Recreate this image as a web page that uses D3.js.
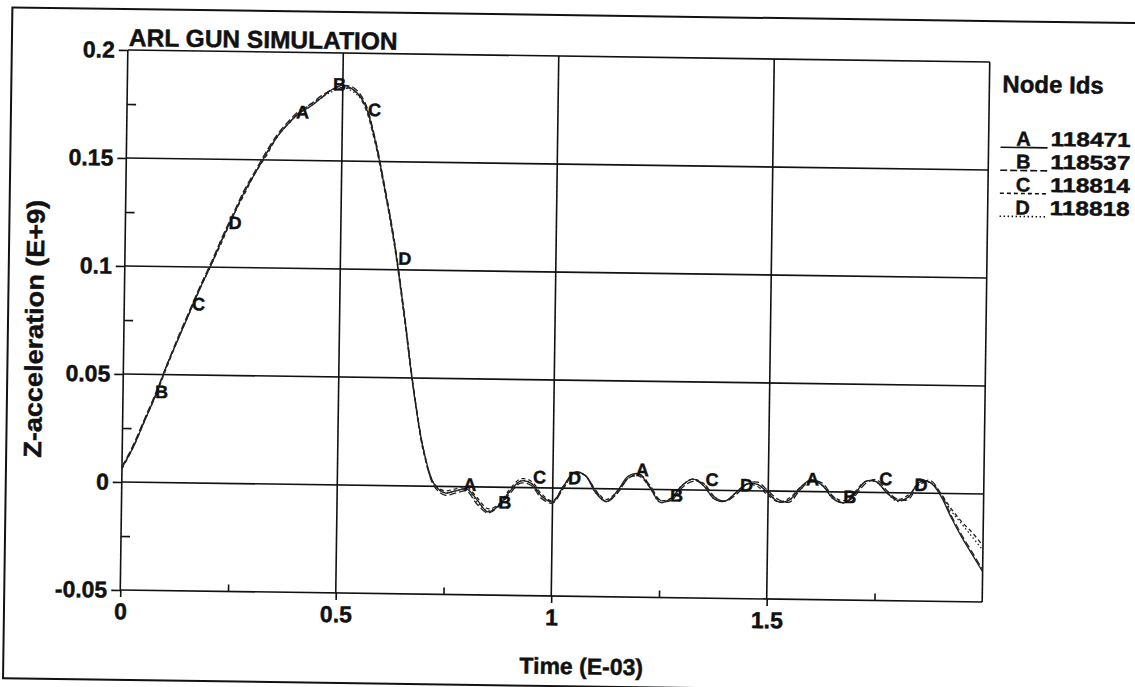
<!DOCTYPE html>
<html>
<head>
<meta charset="utf-8">
<script src="https://cdn.jsdelivr.net/npm/d3@7"></script>
<style>
  body { margin: 0; background: #fff; }
  svg { display: block; font-family: "Liberation Sans", Arial, sans-serif; font-weight: bold; }
  text { stroke: #111; stroke-width: 0.45px; }
</style>
</head>
<body>
<svg id="chart" width="1135" height="687"></svg>
<script>
// 时间轴 (E-03)
const times = [0, 0.025, 0.05, 0.075, 0.1, 0.125, 0.15, 0.175, 0.2, 0.225,
  0.25, 0.275, 0.3, 0.325, 0.35, 0.375, 0.4, 0.425, 0.45, 0.475,
  0.5, 0.525, 0.55, 0.575, 0.6, 0.625, 0.65, 0.675, 0.7, 0.725,
  0.75, 0.775, 0.8, 0.825, 0.85, 0.875, 0.9, 0.925, 0.95, 0.975,
  1, 1.025, 1.05, 1.075, 1.1, 1.125, 1.15, 1.175, 1.2, 1.225,
  1.25, 1.275, 1.3, 1.325, 1.35, 1.375, 1.4, 1.425, 1.45, 1.475,
  1.5, 1.525, 1.55, 1.575, 1.6, 1.625, 1.65, 1.675, 1.7, 1.725,
  1.75, 1.775, 1.8, 1.825, 1.85, 1.875, 1.9, 1.925, 1.95, 1.975, 2];

// Z-acceleration (E+9), 每个节点一条
const seriesA = [0.0065, 0.016, 0.028, 0.040, 0.054, 0.066, 0.078, 0.090, 0.101, 0.113,
  0.124, 0.135, 0.144, 0.153, 0.161, 0.167, 0.172, 0.175, 0.179, 0.183,
  0.185, 0.183, 0.177, 0.161, 0.138, 0.112, 0.079, 0.043, 0.016, 0.001,
  -0.003, -0.002, -0.001, -0.006, -0.0115, -0.0085, -0.002, 0.003, 0.002, -0.004,
  -0.0065, 0.001, 0.0075, 0.006, -0.002, -0.006, -0.001, 0.006, 0.007, 0.001,
  -0.006, -0.004, 0.002, 0.005, 0.002, -0.004, -0.005, -0.001, 0.003, 0.003,
  -0.001, -0.005, -0.004, 0.002, 0.0055, 0.003, -0.003, -0.005, -0.001, 0.005,
  0.005, 0.000, -0.0035, -0.002, 0.005, 0.005, -0.001, -0.011, -0.020, -0.028, -0.036];
const seriesB = [0.007, 0.017, 0.029, 0.041, 0.054, 0.067, 0.079, 0.091, 0.102, 0.114,
  0.125, 0.136, 0.145, 0.154, 0.162, 0.168, 0.173, 0.176, 0.180, 0.183,
  0.185, 0.184, 0.178, 0.162, 0.139, 0.113, 0.080, 0.044, 0.016, 0.000,
  -0.004, -0.003, -0.002, -0.008, -0.012, -0.009, -0.003, 0.002, 0.001, -0.005,
  -0.007, 0.000, 0.007, 0.006, -0.001, -0.006, -0.002, 0.005, 0.007, 0.002,
  -0.005, -0.005, 0.001, 0.004, 0.003, -0.003, -0.005, -0.002, 0.003, 0.004,
  0.000, -0.004, -0.005, 0.001, 0.005, 0.004, -0.002, -0.005, -0.002, 0.004,
  0.006, 0.001, -0.003, -0.003, 0.004, 0.006, 0.000, -0.010, -0.019, -0.027, -0.035];
const seriesC = [0.006, 0.016, 0.028, 0.040, 0.053, 0.066, 0.078, 0.090, 0.101, 0.112,
  0.124, 0.134, 0.144, 0.152, 0.161, 0.167, 0.172, 0.176, 0.179, 0.183,
  0.184, 0.183, 0.176, 0.160, 0.137, 0.111, 0.078, 0.043, 0.015, 0.001,
  -0.002, -0.001, 0.000, -0.005, -0.010, -0.008, -0.001, 0.004, 0.003, -0.003,
  -0.006, 0.001, 0.007, 0.006, -0.001, -0.005, -0.001, 0.005, 0.006, 0.001,
  -0.005, -0.004, 0.002, 0.005, 0.003, -0.003, -0.005, -0.001, 0.003, 0.002,
  -0.002, -0.005, -0.003, 0.002, 0.005, 0.003, -0.002, -0.004, 0.000, 0.005,
  0.005, 0.000, -0.003, -0.001, 0.004, 0.005, 0.000, -0.007, -0.013, -0.018, -0.024];
const seriesD = [0.007, 0.016, 0.028, 0.040, 0.054, 0.066, 0.078, 0.090, 0.101, 0.113,
  0.124, 0.135, 0.144, 0.153, 0.161, 0.167, 0.172, 0.175, 0.179, 0.182,
  0.184, 0.182, 0.177, 0.161, 0.138, 0.112, 0.079, 0.043, 0.016, 0.001,
  -0.003, -0.002, -0.001, -0.007, -0.011, -0.008, -0.002, 0.003, 0.002, -0.004,
  -0.006, 0.000, 0.007, 0.006, -0.002, -0.006, -0.002, 0.005, 0.007, 0.001,
  -0.006, -0.004, 0.002, 0.005, 0.002, -0.004, -0.005, -0.001, 0.003, 0.003,
  -0.001, -0.005, -0.004, 0.001, 0.005, 0.003, -0.003, -0.005, -0.001, 0.005,
  0.005, 0.000, -0.004, -0.002, 0.005, 0.005, 0.000, -0.008, -0.014, -0.020, -0.026];

const nodeNames = ["A", "B", "C", "D"];
const nodeIds = ["118471", "118537", "118814", "118818"];
// 曲线上字母标记的位置 (时间)，字母左下角落在曲线上
const labelTimesA = [0.39, 0.79, 1.19, 1.585];
const labelTimesB = [0.072, 0.475, 0.872, 1.27, 1.672];
const labelTimesC = [0.155, 0.557, 0.952, 1.352, 1.755];
const labelTimesD = [0.237, 0.632, 1.033, 1.432, 1.837];

const xTicks = [0, 0.5, 1, 1.5];
const xTickText = ["0", "0.5", "1", "1.5"];
const xMinor = [0.25, 0.75, 1.25, 1.75];
const yTicks = [-0.05, 0, 0.05, 0.1, 0.15, 0.2];
const yTickText = ["-0.05", "0", "0.05", "0.1", "0.15", "0.2"];
const yMinor = [-0.025, 0.025, 0.075, 0.125, 0.175];

const all_series = [seriesA, seriesB, seriesC, seriesD];
const all_labels = [labelTimesA, labelTimesB, labelTimesC, labelTimesD];
const dashes = ["none", "7,3", "4,3", "1.5,2.5"];

const svg = d3.select("#chart");
// 扫描件略有倾斜，整体旋转一点
const g = svg.append("g").attr("transform", "rotate(0.8, 555, 326)");

const xScale = d3.scaleLinear().domain([0, 2]).range([124, 986]);
const yScale = d3.scaleLinear().domain([-0.05, 0.2]).range([596, 56]);

// 外框
g.append("rect")
  .attr("x", 8).attr("y", 15)
  .attr("width", 1200).attr("height", 671)
  .style("fill", "none").style("stroke", "#111").style("stroke-width", 2);

// 网格
function draw_grid() {
  g.selectAll(".hgrid")
    .data(yTicks)
    .enter()
    .append("line")
    .attr("class", "hgrid")
    .attr("x1", xScale(0)).attr("x2", xScale(2))
    .attr("y1", d => yScale(d)).attr("y2", d => yScale(d))
    .style("stroke", "#111").style("stroke-width", 1.6);

  g.selectAll(".vgrid")
    .data(xTicks.concat([2]))
    .enter()
    .append("line")
    .attr("class", "vgrid")
    .attr("x1", d => xScale(d)).attr("x2", d => xScale(d))
    .attr("y1", yScale(-0.05)).attr("y2", yScale(0.2))
    .style("stroke", "#111").style("stroke-width", 1.6);
}

function draw_Axis() {
  const xAxis = d3.axisBottom(xScale).tickValues(xTicks).tickSize(7)
    .tickFormat((d, i) => xTickText[i]);
  const yAxis = d3.axisLeft(yScale).tickValues(yTicks).tickSize(9)
    .tickFormat((d, i) => yTickText[i]);

  const gx = g.append("g").attr("transform", `translate(0, ${yScale(-0.05)})`).call(xAxis);
  const gy = g.append("g").attr("transform", `translate(${xScale(0)}, 0)`).call(yAxis);
  [gx, gy].forEach(a => {
    a.select(".domain").remove();
    a.selectAll("line").style("stroke", "#111").style("stroke-width", 1.6);
    a.selectAll("text").style("font-size", "23px").style("font-weight", "bold")
      .style("font-family", "'Liberation Sans', Arial, sans-serif").style("fill", "#111");
  });
  gx.selectAll("text").attr("y", 13);
  gy.selectAll("text").attr("x", -13);

  // 小刻度，朝内
  g.append("g").attr("transform", `translate(0, ${yScale(-0.05)})`)
    .call(d3.axisBottom(xScale).tickValues(xMinor).tickSize(-7).tickFormat(""))
    .call(a => a.select(".domain").remove())
    .selectAll("line").style("stroke", "#111").style("stroke-width", 1.6);
  g.append("g").attr("transform", `translate(${xScale(0)}, 0)`)
    .call(d3.axisLeft(yScale).tickValues(yMinor).tickSize(-9).tickFormat(""))
    .call(a => a.select(".domain").remove())
    .selectAll("line").style("stroke", "#111").style("stroke-width", 1.6);
}

function value_at(series, t) {
  const i = Math.max(1, d3.bisectLeft(times, t));
  const f = (t - times[i - 1]) / (times[i] - times[i - 1]);
  return series[i - 1] + f * (series[i] - series[i - 1]);
}

function draw_lines() {
  const line = d3.line()
    .x((d, i) => xScale(times[i]))
    .y(d => yScale(d))
    .curve(d3.curveCatmullRom.alpha(0.5));

  all_series.forEach((s, k) => {
    g.append("path")
      .datum(s)
      .attr("d", line)
      .style("fill", "none")
      .style("stroke", "#222")
      .style("stroke-width", 1.3)
      .style("stroke-dasharray", dashes[k]);
  });

  all_labels.forEach((ts, k) => {
    g.selectAll(".lab" + k)
      .data(ts)
      .enter()
      .append("text")
      .attr("class", "lab" + k)
      .attr("x", d => xScale(d) + 1)
      .attr("y", d => yScale(value_at(all_series[k], d)) + 1)
      .text(nodeNames[k])
      .style("font-size", "18px")
      .style("fill", "#111");
  });
}

function draw_text() {
  g.append("text")
    .attr("x", 125).attr("y", 52)
    .text("ARL GUN SIMULATION")
    .style("font-size", "24.5px").style("fill", "#111");

  g.append("text")
    .attr("transform", "translate(43, 336) rotate(-90)")
    .attr("textLength", 258).attr("lengthAdjust", "spacingAndGlyphs")
    .text("Z-acceleration (E+9)")
    .style("font-size", "25px").style("text-anchor", "middle").style("fill", "#111");

  g.append("text")
    .attr("x", 586).attr("y", 674)
    .text("Time (E-03)")
    .style("font-size", "23px").style("text-anchor", "middle").style("fill", "#111");

  // 图例
  g.append("text")
    .attr("x", 999).attr("y", 86)
    .text("Node Ids")
    .style("font-size", "24px").style("fill", "#111");

  const rows = g.selectAll(".legend-row")
    .data(nodeNames)
    .enter()
    .append("g")
    .attr("class", "legend-row")
    .attr("transform", (d, i) => `translate(998, ${139 + i * 23})`);
  rows.append("line")
    .attr("x1", 0).attr("x2", 47).attr("y1", 2).attr("y2", 2)
    .style("stroke", "#111").style("stroke-width", 1.6)
    .style("stroke-dasharray", (d, i) => dashes[i]);
  rows.append("text")
    .attr("x", 23).attr("y", 0)
    .text(d => d)
    .style("font-size", "20px").style("text-anchor", "middle").style("fill", "#111");
  rows.append("text")
    .attr("x", 50).attr("y", 0)
    .attr("textLength", 80).attr("lengthAdjust", "spacingAndGlyphs")
    .text((d, i) => nodeIds[i])
    .style("font-size", "20px").style("fill", "#111");
}

draw_grid();
draw_lines();
draw_Axis();
draw_text();
</script>
</body>
</html>
